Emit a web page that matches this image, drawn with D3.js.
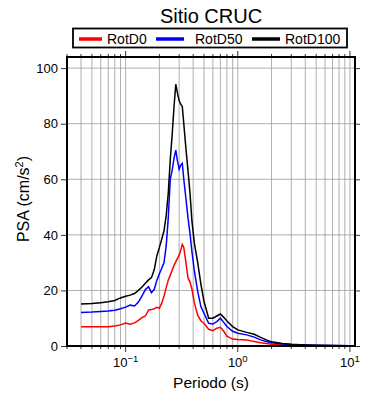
<!DOCTYPE html>
<html><head><meta charset="utf-8">
<script src="https://cdn.jsdelivr.net/npm/d3@7"></script>
<style>body{margin:0;background:#fff}svg{display:block;font-family:"Liberation Sans",Arial,sans-serif}</style>
</head><body><svg id="c" width="390" height="400"></svg>
<script>
const title = "Sitio CRUC";
const seriesNames = ["RotD0", "RotD50", "RotD100"];
const seriesColors = ["#ff0000", "#0000ff", "#000000"];
const periods = [0.04,0.05,0.06,0.07,0.08,0.09,0.10,0.11,0.12,0.13,0.14,0.15,0.16,0.17,0.18,0.19,0.20,0.21,0.22,0.23,0.24,0.25,0.26,0.27,0.28,0.29,0.30,0.31,0.32,0.33,0.345,0.36,0.375,0.39,0.41,0.44,0.47,0.50,0.55,0.60,0.65,0.70,0.75,0.80,0.90,1.0,1.2,1.4,1.6,1.8,2.0,2.5,3.0,4.0,5.0,7.0,10.0,11.0];
const rotD0 = [6.9,6.9,6.9,6.9,7.2,7.6,8.3,7.8,8.3,9.2,10.2,10.8,12.9,13.1,13.4,13.9,13.6,15.5,18.0,21.0,23.7,25.5,27.3,29.0,30.3,31.5,32.7,34.5,36.6,35.5,30.0,24.5,23.0,20.5,15.5,11.0,9.0,8.2,6.0,5.5,6.4,6.7,5.3,3.5,2.5,2.3,2.2,1.6,1.2,0.9,0.6,0.35,0.25,0.15,0.1,0.08,0.05,0.04];
const rotD50 = [12.1,12.2,12.4,12.6,12.9,13.4,14.0,14.7,14.4,15.8,18.0,20.3,21.3,19.2,20.4,23.7,26.0,28.0,30.0,36.0,46.0,60.0,63.3,67.5,70.5,66.5,63.6,65.1,65.7,60.0,53.0,46.0,40.5,34.0,27.0,19.5,14.0,11.8,8.2,7.9,8.8,10.0,8.5,7.0,5.3,4.6,4.0,3.2,2.2,1.6,1.2,0.7,0.5,0.35,0.25,0.15,0.1,0.08];
const rotD100 = [15.1,15.3,15.6,15.9,16.4,17.3,17.9,18.3,18.9,20.0,21.2,22.6,23.8,24.6,27.5,32.5,35.5,38.5,41.5,47.0,55.0,67.0,76.0,86.0,94.2,91.0,88.3,87.0,86.2,80.0,71.0,63.0,55.0,45.0,37.0,29.8,22.0,16.0,10.0,10.0,10.8,11.5,10.3,9.0,7.0,5.8,4.9,4.2,3.1,2.2,1.5,0.9,0.6,0.4,0.3,0.2,0.12,0.1];
const yTicks = [0,20,40,60,80,100];
const xMajor = [0.1,1,10];
const xLabelExp = ["\u22121","0","1"];
const xLabel = "Periodo (s)";

const svg = d3.select("#c");
const L = 67, R = 355, T = 57, B = 346;
const x = d3.scaleLog().domain([0.03, 11.1]).range([L, R]);
const y = d3.scaleLinear().domain([0, 104]).range([B, T]);

const minor = [];
for (let e = -2; e <= 1; e++) for (let m = 1; m <= 9; m++) {
  const v = m * Math.pow(10, e);
  if (v >= 0.03 && v <= 11.1) minor.push(v);
}
const g = svg.append("g");
g.selectAll(".vg").data(minor).enter().append("line")
  .attr("x1", d => x(d)).attr("x2", d => x(d)).attr("y1", T).attr("y2", B)
  .attr("stroke", "#9a9a9a").attr("stroke-width", 0.8);
g.selectAll(".hg").data(yTicks.filter(d => d > 0)).enter().append("line")
  .attr("x1", L).attr("x2", R).attr("y1", d => y(d)).attr("y2", d => y(d))
  .attr("stroke", "#9a9a9a").attr("stroke-width", 0.8);

const tickLen = d => xMajor.includes(+d.toPrecision(3)) ? 6 : 3;
const xb = svg.append("g").attr("transform", `translate(0,${B})`);
xb.selectAll("line").data(minor).enter().append("line")
  .attr("x1", d => x(d)).attr("x2", d => x(d)).attr("y1", 0).attr("y2", d => tickLen(d))
  .attr("stroke", "#000").attr("stroke-width", 0.8);
const xt = svg.append("g").attr("transform", `translate(0,${T})`);
xt.selectAll("line").data(minor).enter().append("line")
  .attr("x1", d => x(d)).attr("x2", d => x(d)).attr("y1", 0).attr("y2", d => -tickLen(d))
  .attr("stroke", "#000").attr("stroke-width", 0.8);
const yl = svg.append("g").attr("transform", `translate(${L},0)`)
  .call(d3.axisLeft(y).tickValues(yTicks).tickSize(6).tickPadding(3));
yl.select(".domain").remove();
yl.selectAll("text").attr("font-size", 13).attr("font-family", "Liberation Sans, Arial, sans-serif").attr("fill", "#000");
yl.selectAll("line").attr("stroke-width", 0.8);
const yr = svg.append("g").attr("transform", `translate(${R},0)`)
  .call(d3.axisRight(y).tickValues(yTicks).tickSize(5).tickFormat(""));
yr.select(".domain").remove();
yr.selectAll("line").attr("stroke-width", 0.8);

xMajor.forEach((v, i) => {
  const t = svg.append("text").attr("x", x(v)).attr("y", 367).attr("text-anchor", "middle")
    .attr("font-size", 13).attr("fill", "#000");
  t.append("tspan").text("10");
  t.append("tspan").attr("dy", -5).attr("font-size", 9.5).text(xLabelExp[i]);
});
svg.append("text").attr("x", 211).attr("y", 388).attr("text-anchor", "middle")
  .attr("font-size", 15.5).text(xLabel);
const ylab = svg.append("text").attr("transform", "translate(29,199) rotate(-90)")
  .attr("text-anchor", "middle").attr("font-size", 16);
ylab.append("tspan").text("PSA (cm/s");
ylab.append("tspan").attr("dy", -6).attr("font-size", 11).text("2");
ylab.append("tspan").attr("dy", 6).text(")");

svg.append("clipPath").attr("id", "pc").append("rect")
  .attr("x", L).attr("y", T).attr("width", R - L).attr("height", B - T);
const line = d3.line().x(d => x(d[0])).y(d => y(d[1]));
[rotD0, rotD50, rotD100].forEach((s, i) => {
  svg.append("path").datum(periods.map((p, j) => [p, s[j]]))
    .attr("d", line).attr("fill", "none").attr("stroke", seriesColors[i])
    .attr("stroke-width", 1.5).attr("clip-path", "url(#pc)");
});

svg.append("rect").attr("x", L).attr("y", T).attr("width", R - L).attr("height", B - T)
  .attr("fill", "none").attr("stroke", "#000").attr("stroke-width", 2);

svg.append("text").attr("x", 211).attr("y", 23).attr("text-anchor", "middle")
  .attr("font-size", 20).text(title);

svg.append("rect").attr("x", 73).attr("y", 28.5).attr("width", 274).attr("height", 19)
  .attr("fill", "#fff").attr("stroke", "#000").attr("stroke-width", 1.8);
const legX = [[79, 102, 107], [156, 184, 195], [252, 280, 285]];
seriesNames.forEach((n, i) => {
  svg.append("line").attr("x1", legX[i][0]).attr("x2", legX[i][1]).attr("y1", 39).attr("y2", 39)
    .attr("stroke", seriesColors[i]).attr("stroke-width", 3.5);
  svg.append("text").attr("x", legX[i][2]).attr("y", 44).attr("font-size", 14).text(n);
});
</script></body></html>
